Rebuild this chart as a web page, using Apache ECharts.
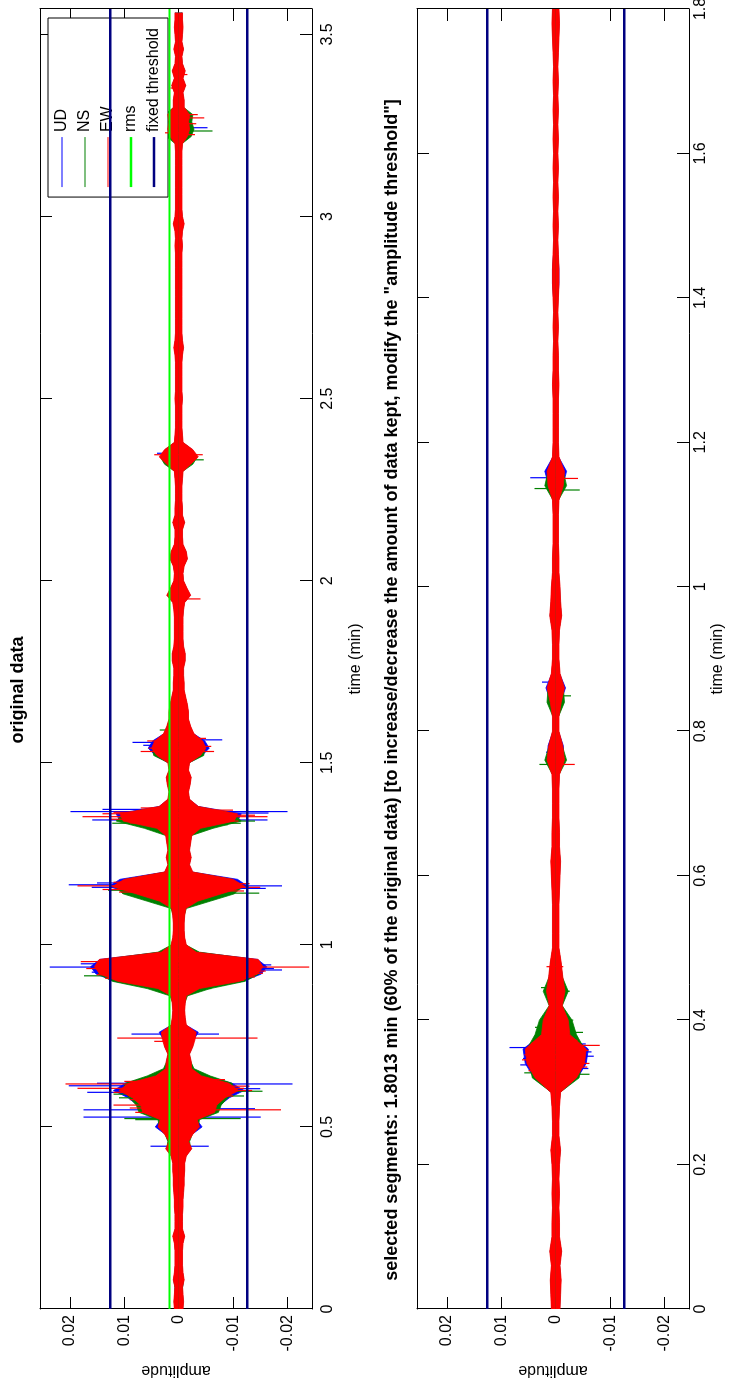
<!DOCTYPE html>
<html><head><meta charset="utf-8">
<script src="https://cdn.jsdelivr.net/npm/echarts@6/dist/echarts.min.js"></script>
<style>
html,body{margin:0;padding:0;background:#fff;}
#wrap{position:relative;width:736px;height:1380px;overflow:hidden;background:#fff;}
#chart{position:absolute;left:0;top:0;width:1380px;height:736px;transform-origin:0 0;transform:translate(0,1380px) rotate(-90deg);}
</style></head><body><div id="wrap"><div id="chart"></div></div>
<script>
// ---------- data ----------
const TITLE_A = 'original data';
const TITLE_B = 'selected segments: 1.8013 min (60% of the original data) [to increase/decrease the amount of data kept, modify the "amplitude threshold"]';
const LEGEND_NAMES = ['UD', 'NS', 'EW', 'rms', 'fixed threshold'];
const AMP_TICKS = [-0.02, -0.01, 0, 0.01, 0.02];
const TIME_MAX_A = 3.57;      // original record axis end (min)
const TIME_MAX_B = 1.8;       // selected segments axis end (min)
const SAMPLE_STEP = 0.02;     // envelope sampling step (min)
const RMS_LEVEL = 0.0017;
const THRESHOLD = 0.0126;

// peak amplitude envelopes of the original record (one value every 0.02 min, from t = 0)
const EW_A = [0.0008,0.0009,0.0008,0.0007,0.0010,0.0008,0.0007,0.0007,0.0007,0.0008,
0.0011,0.0007,0.0007,0.0007,0.0008,0.0008,0.0009,0.0010,0.0010,0.0011,
0.0011,0.0014,0.0024,0.0018,0.0026,0.0038,0.0034,0.0066,0.0070,0.0085,
0.0110,0.0092,0.0042,0.0024,0.0023,0.0020,0.0026,0.0030,0.0032,0.0014,
0.0012,0.0011,0.0012,0.0014,0.0038,0.0112,0.0145,0.0155,0.0146,0.0032,
0.0014,0.0011,0.0010,0.0010,0.0011,0.0013,0.0035,0.0078,0.0122,0.0100,
0.0026,0.0020,0.0023,0.0020,0.0022,0.0024,0.0040,0.0102,0.0108,0.0036,
0.0020,0.0018,0.0021,0.0023,0.0018,0.0020,0.0040,0.0050,0.0044,0.0028,
0.0022,0.0018,0.0018,0.0016,0.0013,0.0010,0.0010,0.0009,0.0009,0.0012,
0.0012,0.0009,0.0008,0.0008,0.0008,0.0008,0.0009,0.0011,0.0022,0.0015,
0.0009,0.0008,0.0010,0.0016,0.0014,0.0008,0.0007,0.0007,0.0011,0.0007,
0.0007,0.0006,0.0006,0.0006,0.0007,0.0008,0.0022,0.0036,0.0026,0.0008,
0.0007,0.0006,0.0006,0.0006,0.0006,0.0007,0.0006,0.0006,0.0006,0.0006,
0.0006,0.0007,0.0009,0.0007,0.0006,0.0006,0.0006,0.0006,0.0006,0.0006,
0.0006,0.0006,0.0006,0.0006,0.0006,0.0006,0.0007,0.0006,0.0007,0.0010,
0.0007,0.0006,0.0006,0.0006,0.0006,0.0006,0.0006,0.0006,0.0006,0.0006,
0.0007,0.0016,0.0020,0.0018,0.0020,0.0010,0.0010,0.0008,0.0013,0.0008,
0.0012,0.0007,0.0006,0.0009,0.0006,0.0007,0.0008,0.0007,0.0007];
const NS_A = [0.0007,0.0008,0.0007,0.0007,0.0009,0.0007,0.0006,0.0006,0.0006,0.0007,
0.0010,0.0006,0.0006,0.0006,0.0007,0.0007,0.0008,0.0009,0.0009,0.0010,
0.0010,0.0013,0.0022,0.0020,0.0025,0.0036,0.0038,0.0073,0.0078,0.0090,
0.0103,0.0098,0.0058,0.0028,0.0022,0.0019,0.0025,0.0028,0.0028,0.0013,
0.0011,0.0010,0.0011,0.0016,0.0058,0.0122,0.0147,0.0147,0.0137,0.0038,
0.0013,0.0010,0.0009,0.0009,0.0010,0.0014,0.0058,0.0102,0.0117,0.0097,
0.0023,0.0019,0.0022,0.0019,0.0021,0.0023,0.0063,0.0115,0.0102,0.0033,
0.0019,0.0017,0.0020,0.0022,0.0017,0.0019,0.0046,0.0048,0.0038,0.0026,
0.0021,0.0017,0.0017,0.0015,0.0012,0.0009,0.0009,0.0008,0.0008,0.0011,
0.0011,0.0008,0.0007,0.0007,0.0007,0.0007,0.0008,0.0010,0.0020,0.0014,
0.0008,0.0007,0.0009,0.0015,0.0013,0.0007,0.0006,0.0006,0.0010,0.0006,
0.0006,0.0005,0.0005,0.0005,0.0006,0.0007,0.0026,0.0034,0.0024,0.0007,
0.0006,0.0005,0.0005,0.0005,0.0005,0.0006,0.0005,0.0005,0.0005,0.0005,
0.0005,0.0006,0.0008,0.0006,0.0005,0.0005,0.0005,0.0005,0.0005,0.0005,
0.0005,0.0005,0.0005,0.0005,0.0005,0.0005,0.0006,0.0005,0.0006,0.0009,
0.0006,0.0005,0.0005,0.0005,0.0005,0.0005,0.0005,0.0005,0.0005,0.0005,
0.0006,0.0023,0.0028,0.0024,0.0026,0.0009,0.0009,0.0007,0.0012,0.0007,
0.0011,0.0006,0.0005,0.0008,0.0005,0.0006,0.0007,0.0006,0.0006];
const UD_A = [0.0007,0.0008,0.0007,0.0007,0.0009,0.0007,0.0006,0.0006,0.0006,0.0007,
0.0010,0.0006,0.0006,0.0006,0.0007,0.0007,0.0008,0.0009,0.0009,0.0010,
0.0010,0.0013,0.0023,0.0017,0.0025,0.0043,0.0033,0.0068,0.0076,0.0093,
0.0120,0.0098,0.0048,0.0023,0.0022,0.0019,0.0025,0.0028,0.0036,0.0013,
0.0011,0.0010,0.0011,0.0013,0.0036,0.0118,0.0152,0.0162,0.0145,0.0032,
0.0013,0.0010,0.0009,0.0009,0.0010,0.0012,0.0034,0.0083,0.0128,0.0108,
0.0025,0.0019,0.0022,0.0019,0.0021,0.0023,0.0038,0.0108,0.0115,0.0036,
0.0019,0.0017,0.0020,0.0022,0.0017,0.0019,0.0043,0.0056,0.0048,0.0027,
0.0021,0.0017,0.0017,0.0015,0.0012,0.0009,0.0009,0.0008,0.0008,0.0011,
0.0011,0.0008,0.0007,0.0007,0.0007,0.0007,0.0008,0.0010,0.0021,0.0014,
0.0008,0.0007,0.0009,0.0015,0.0013,0.0007,0.0006,0.0006,0.0010,0.0006,
0.0006,0.0005,0.0005,0.0005,0.0006,0.0007,0.0021,0.0033,0.0025,0.0007,
0.0006,0.0005,0.0005,0.0005,0.0005,0.0006,0.0005,0.0005,0.0005,0.0005,
0.0005,0.0006,0.0008,0.0006,0.0005,0.0005,0.0005,0.0005,0.0005,0.0005,
0.0005,0.0005,0.0005,0.0005,0.0005,0.0005,0.0006,0.0005,0.0006,0.0009,
0.0006,0.0005,0.0005,0.0005,0.0005,0.0005,0.0005,0.0005,0.0005,0.0005,
0.0006,0.0015,0.0022,0.0017,0.0019,0.0009,0.0009,0.0007,0.0012,0.0007,
0.0011,0.0006,0.0005,0.0008,0.0005,0.0006,0.0007,0.0006,0.0006];

// peak amplitude envelopes of the selected segments (one value every 0.02 min)
const EW_B = [0.0008,0.0009,0.0010,0.0008,0.0011,0.0007,0.0007,0.0006,0.0007,0.0006,
0.0007,0.0009,0.0006,0.0006,0.0007,0.0009,0.0038,0.0053,0.0056,0.0026,
0.0023,0.0012,0.0017,0.0013,0.0010,0.0006,0.0006,0.0006,0.0006,0.0007,
0.0008,0.0009,0.0007,0.0007,0.0006,0.0006,0.0006,0.0007,0.0016,0.0013,
0.0006,0.0006,0.0010,0.0016,0.0008,0.0006,0.0006,0.0007,0.0011,0.0009,
0.0008,0.0006,0.0006,0.0005,0.0005,0.0005,0.0006,0.0014,0.0016,0.0006,
0.0005,0.0005,0.0005,0.0005,0.0006,0.0005,0.0005,0.0004,0.0005,0.0004,
0.0005,0.0006,0.0006,0.0005,0.0004,0.0005,0.0004,0.0005,0.0004,0.0005,
0.0004,0.0005,0.0004,0.0005,0.0004,0.0005,0.0004,0.0005,0.0006,0.0007,
0.0006];
const NS_B = [0.0007,0.0008,0.0009,0.0007,0.0010,0.0006,0.0006,0.0005,0.0006,0.0005,
0.0006,0.0008,0.0005,0.0005,0.0006,0.0008,0.0043,0.0048,0.0053,0.0038,
0.0030,0.0012,0.0023,0.0012,0.0009,0.0005,0.0005,0.0005,0.0005,0.0006,
0.0007,0.0008,0.0006,0.0006,0.0005,0.0005,0.0005,0.0006,0.0020,0.0012,
0.0005,0.0005,0.0016,0.0014,0.0007,0.0005,0.0005,0.0006,0.0010,0.0008,
0.0007,0.0005,0.0005,0.0004,0.0004,0.0004,0.0005,0.0020,0.0014,0.0005,
0.0004,0.0004,0.0004,0.0004,0.0005,0.0004,0.0004,0.0003,0.0004,0.0003,
0.0004,0.0005,0.0005,0.0004,0.0003,0.0004,0.0003,0.0004,0.0003,0.0004,
0.0003,0.0004,0.0003,0.0004,0.0003,0.0004,0.0003,0.0004,0.0005,0.0006,
0.0005];
const UD_B = [0.0007,0.0008,0.0009,0.0007,0.0010,0.0006,0.0006,0.0005,0.0006,0.0005,
0.0006,0.0008,0.0005,0.0005,0.0006,0.0008,0.0040,0.0056,0.0060,0.0025,
0.0022,0.0011,0.0016,0.0012,0.0009,0.0005,0.0005,0.0005,0.0005,0.0006,
0.0007,0.0008,0.0006,0.0006,0.0005,0.0005,0.0005,0.0006,0.0015,0.0014,
0.0005,0.0005,0.0009,0.0018,0.0007,0.0005,0.0005,0.0006,0.0010,0.0008,
0.0007,0.0005,0.0005,0.0004,0.0004,0.0004,0.0005,0.0013,0.0020,0.0005,
0.0004,0.0004,0.0004,0.0004,0.0005,0.0004,0.0004,0.0003,0.0004,0.0003,
0.0004,0.0006,0.0006,0.0004,0.0003,0.0004,0.0003,0.0004,0.0003,0.0004,
0.0003,0.0004,0.0003,0.0004,0.0003,0.0004,0.0003,0.0004,0.0005,0.0006,
0.0005];

// isolated large peaks [time (min), amplitude]
const UD_SPIKES_A = [[0.939,0.0237],[0.931,-0.0190],[0.925,0.0160],[0.945,-0.0170],[0.948,0.0180],[0.935,-0.0175],
[1.165,0.0202],[1.162,-0.0190],[1.170,0.0150],[1.155,-0.0160],[1.158,0.0160],
[1.366,0.0199],[1.366,-0.0200],[1.343,0.0159],[1.343,-0.0163],[1.372,0.0140],[1.362,-0.0165],
[1.556,0.0085],[1.563,-0.0080],[1.548,0.0065],
[0.613,0.0202],[0.618,-0.0209],[0.595,0.0168],[0.547,0.0175],[0.527,0.0175],[0.527,-0.0151],[0.605,-0.0150],[0.620,0.0150],[0.550,-0.0140],
[0.755,0.0087],[0.755,-0.0074],[0.447,0.0052],[0.447,-0.0055],[3.244,-0.0053],[2.350,0.0040]];
const NS_SPIKES_A = [[0.918,-0.0145],[0.915,0.0174],[0.905,0.0100],[0.900,-0.0110],[0.895,0.0090],[0.890,-0.0085],
[1.142,-0.0148],[1.142,0.0104],[1.150,0.0130],[1.138,0.0090],[1.334,0.0122],[1.334,-0.0114],[1.340,-0.0140],[1.330,-0.0090],
[0.598,-0.0154],[0.590,0.0120],[0.523,-0.0114],[0.523,0.0100],[0.580,0.0110],[0.520,0.0080],[0.585,-0.0120],
[1.590,0.0035],[2.332,0.0020],[2.332,-0.0046],[3.235,-0.0062],[0.880,-0.0060]];
const EW_SPIKES_A = [[0.939,-0.0240],[0.954,0.0180],[0.945,0.0150],[0.935,0.0170],[0.928,-0.0160],
[0.900,0.0105],[0.903,-0.0120],[0.908,0.0135],[0.912,-0.0140],[0.918,0.0150],[0.922,-0.0155],
[0.950,-0.0150],[0.958,0.0120],[0.962,-0.0110],[0.966,0.0080],[0.970,-0.0060],
[1.162,0.0186],[1.158,-0.0150],[1.145,0.0110],[1.148,-0.0120],[1.152,0.0140],[1.168,-0.0130],[1.172,0.0120],[1.176,-0.0100],[1.180,0.0080],
[1.352,0.0177],[1.352,-0.0163],[1.360,0.0140],[1.335,0.0090],[1.340,-0.0110],[1.345,0.0125],[1.356,-0.0140],[1.364,0.0120],[1.370,-0.0100],[1.376,0.0070],
[0.618,0.0208],[0.606,0.0186],[0.606,-0.0120],[0.547,-0.0188],[0.560,0.0120],[0.612,-0.0130],
[0.575,0.0090],[0.585,-0.0100],[0.595,0.0120],[0.600,-0.0135],[0.625,0.0100],[0.630,-0.0085],[0.540,0.0080],[0.552,0.0090],
[0.744,0.0113],[0.744,-0.0145],[0.735,0.0045],
[1.531,0.0070],[1.531,-0.0065],[1.540,0.0055],[1.545,-0.0060],[1.560,0.0058],[1.567,-0.0050],
[1.950,-0.0040],[2.346,0.0045],[2.346,-0.0044],
[3.271,-0.0047],[3.225,-0.0030],[3.230,0.0025],[3.255,-0.0032],[3.280,-0.0035],[3.390,-0.0016],[3.353,0.0015]];
const UD_SPIKES_B = [[0.362,0.0085],[0.356,-0.0066],[0.347,0.0060],[0.333,-0.0060],[0.338,0.0065],[0.350,-0.0070],[0.367,-0.0055],
[1.151,0.0047],[0.868,0.0025],[0.771,0.0018]];
const EW_SPIKES_B = [[0.365,-0.0081],[0.352,0.0058],[0.340,-0.0062],[0.330,0.0050],[0.335,-0.0058],[0.345,0.0062],[0.358,-0.0060],[0.368,0.0045],[0.372,-0.0040],
[1.150,-0.0041],[0.754,-0.0035],[0.474,0.0017],[0.474,-0.0014]];
const NS_SPIKES_B = [[0.327,0.0058],[0.325,-0.0062],[0.390,0.0038],[0.383,-0.0050],[0.395,0.0030],[0.400,-0.0032],[0.405,0.0025],
[0.445,0.0027],[0.440,-0.0026],[1.136,0.0039],[1.134,-0.0044],[0.849,-0.0028],[0.754,0.0030]];

// ---------- styling ----------
const FONT = "'Liberation Sans', Arial, Helvetica, sans-serif";
const C_UD = '#0000ff', C_NS = '#008000', C_EW = '#ff0000', C_RMS = '#00ff00', C_THR = '#000080';
const AMP_MIN = -0.0245, AMP_MAX = 0.0255;

function sampleTimes(n){ const a=[]; for(let i=0;i<n;i++) a.push(+(i*SAMPLE_STEP).toFixed(4)); return a; }

function timeAxes(gi, max, interval, nameGap, labelMargin, showMax){
  const base = {gridIndex:gi, type:'value', min:0, max:max, interval:interval,
    axisLine:{show:true, onZero:false, lineStyle:{color:'#000', width:1}},
    axisTick:{show:true, inside:true, length:12, lineStyle:{color:'#000'}},
    splitLine:{show:false}};
  return [
    Object.assign({}, base, {position:'bottom', name:'time (min)', nameLocation:'middle', nameGap:nameGap,
      nameTextStyle:{color:'#000', fontSize:16, fontFamily:FONT},
      axisLabel:{show:true, color:'#000', fontSize:16, fontFamily:FONT, margin:labelMargin, showMaxLabel:showMax}}),
    Object.assign({}, base, {position:'top', axisLabel:{show:false}})
  ];
}
function ampAxes(gi){
  const base = {gridIndex:gi, type:'value', min:AMP_MIN, max:AMP_MAX,
    axisLine:{show:true, onZero:false, lineStyle:{color:'#000', width:1}},
    axisTick:{show:true, inside:true, length:12, customValues:AMP_TICKS, lineStyle:{color:'#000'}},
    splitLine:{show:false}};
  return [
    Object.assign({}, base, {position:'left', name:'amplitude', nameLocation:'middle', nameGap:48, nameRotate:90,
      nameTextStyle:{color:'#000', fontSize:16, fontFamily:FONT},
      axisLabel:{show:true, color:'#000', fontSize:16, fontFamily:FONT, margin:6, customValues:AMP_TICKS}}),
    Object.assign({}, base, {position:'right', axisLabel:{show:false}})
  ];
}

function envSeries(id, xi, yi, times, env, color, sign, z){
  return {type:'line', name:id, xAxisIndex:xi, yAxisIndex:yi, z:z, silent:true, animation:false,
    data: times.map((t,i)=>[t, sign*env[i]]), symbol:'none', showSymbol:false,
    lineStyle:{color:color, width:0.8}, itemStyle:{color:color}, areaStyle:{color:color, opacity:1}};
}
function spikeSeries(id, xi, yi, data, color, z){
  return {type:'custom', name:id, xAxisIndex:xi, yAxisIndex:yi, z:z, silent:true, animation:false, data:data,
    encode:{x:0, y:1},
    renderItem:function(params, api){
      const t=api.value(0), a=api.value(1);
      const p0=api.coord([t,0]), p1=api.coord([t,a]);
      return {type:'line', shape:{x1:p0[0], y1:p0[1], x2:p1[0], y2:p1[1]}, style:{stroke:color, lineWidth:1.2}};
    }};
}
function hLine(name, xi, yi, tmax, level, color, width){
  return {type:'line', name:name, xAxisIndex:xi, yAxisIndex:yi, z:10, silent:true, animation:false,
    data:[[0, level],[tmax, level]], symbol:'none', lineStyle:{color:color, width:width}, itemStyle:{color:color}};
}

const tA = sampleTimes(EW_A.length), tB = sampleTimes(EW_B.length);
const series = [];
[[UD_A, UD_SPIKES_A, C_UD, 'UD'], [NS_A, NS_SPIKES_A, C_NS, 'NS'], [EW_A, EW_SPIKES_A, C_EW, 'EW']].forEach((c, k)=>{
  series.push(envSeries(c[3]+' A+', 0, 0, tA, c[0], c[2], 1, 2+k));
  series.push(envSeries(c[3]+' A-', 0, 0, tA, c[0], c[2], -1, 2+k));
  series.push(spikeSeries(c[3]+' A spikes', 0, 0, c[1], c[2], 2+k));
});
[[UD_B, UD_SPIKES_B, C_UD, 'UD'], [NS_B, NS_SPIKES_B, C_NS, 'NS'], [EW_B, EW_SPIKES_B, C_EW, 'EW']].forEach((c, k)=>{
  series.push(envSeries(c[3]+' B+', 2, 2, tB, c[0], c[2], 1, 2+k));
  series.push(envSeries(c[3]+' B-', 2, 2, tB, c[0], c[2], -1, 2+k));
  series.push(spikeSeries(c[3]+' B spikes', 2, 2, c[1], c[2], 2+k));
});
series.push({type:'line', name:'UD', xAxisIndex:0, yAxisIndex:0, data:[], symbol:'none', lineStyle:{color:C_UD, width:1}, itemStyle:{color:C_UD}});
series.push({type:'line', name:'NS', xAxisIndex:0, yAxisIndex:0, data:[], symbol:'none', lineStyle:{color:C_NS, width:1}, itemStyle:{color:C_NS}});
series.push({type:'line', name:'EW', xAxisIndex:0, yAxisIndex:0, data:[], symbol:'none', lineStyle:{color:C_EW, width:1}, itemStyle:{color:C_EW}});
series.push(hLine('rms', 0, 0, TIME_MAX_A, RMS_LEVEL, C_RMS, 2));
series.push(hLine('fixed threshold', 0, 0, TIME_MAX_A, THRESHOLD, C_THR, 2.5));
series.push(hLine('fixed threshold', 0, 0, TIME_MAX_A, -THRESHOLD, C_THR, 2.5));
series.push(hLine('fixed threshold', 2, 2, TIME_MAX_B, THRESHOLD, C_THR, 2.5));
series.push(hLine('fixed threshold', 2, 2, TIME_MAX_B, -THRESHOLD, C_THR, 2.5));

const THIN = 'path://M0,0H50V1H0Z', THICK = 'path://M0,0H50V2.4H0Z';
const option = {
  backgroundColor:'#ffffff',
  animation:false,
  title:[
    {text:TITLE_A, left:'center', top:4, textStyle:{color:'#000', fontSize:18, fontWeight:'bold', fontFamily:FONT}},
    {text:TITLE_B, left:'center', top:378, textStyle:{color:'#000', fontSize:18, fontWeight:'bold', fontFamily:FONT}}
  ],
  legend:{show:true, orient:'vertical', right:18, top:48, itemWidth:50, itemHeight:14, itemGap:7,
    data:[{name:'UD', icon:THIN},{name:'NS', icon:THIN},{name:'EW', icon:THIN},{name:'rms', icon:THICK},{name:'fixed threshold', icon:THICK}],
    padding:[6,10,6,10], borderColor:'#000', borderWidth:1, backgroundColor:'#fff', selectedMode:false,
    textStyle:{color:'#000', fontSize:16, fontFamily:FONT}},
  grid:[
    {left:71, right:9, top:40, height:272, containLabel:false, outerBoundsMode:'none'},
    {left:71, right:9, top:417, height:272, containLabel:false, outerBoundsMode:'none'}
  ],
  xAxis:[].concat(timeAxes(0, TIME_MAX_A, 0.5, 36, 8, false), timeAxes(1, TIME_MAX_B, 0.2, 11, 4, true)),
  yAxis:[].concat(ampAxes(0), ampAxes(1)),
  series:series
};
const chart = echarts.init(document.getElementById('chart'), null, {renderer:'canvas', width:1380, height:736});
chart.setOption(option);
</script></body></html>
